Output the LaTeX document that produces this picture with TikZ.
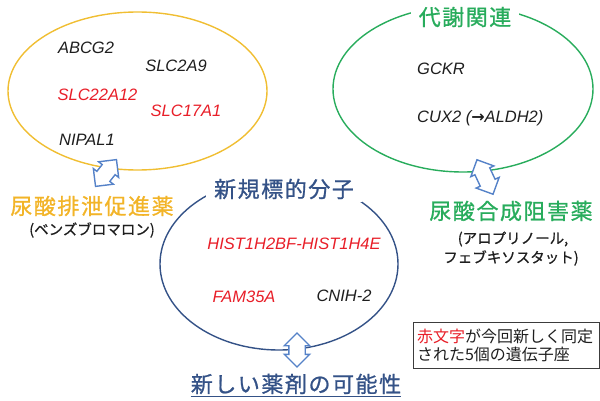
\documentclass[tikz,border=0pt]{standalone}
\usepackage{fontspec}
\usetikzlibrary{shapes.geometric,shapes.arrows}
\setmainfont{Liberation Sans}
\newfontfamily\jp{Noto Sans CJK JP}
\newfontfamily\jpmid[FakeBold=0.8]{Noto Sans CJK JP}
\newfontfamily\jpsp[LetterSpace=7,FakeBold=0.9]{Noto Sans CJK JP}
\newfontfamily\dv{DejaVu Sans}
\definecolor{ylwline}{RGB}{240,190,50}
\definecolor{ylwtext}{RGB}{242,180,40}
\definecolor{grn}{RGB}{40,172,92}
\definecolor{navy}{RGB}{52,82,135}
\definecolor{arrowblue}{RGB}{85,130,200}
\definecolor{redtext}{RGB}{232,30,40}
\definecolor{gblack}{RGB}{30,30,30}
\definecolor{boxgray}{RGB}{60,60,60}
\begin{document}
\begin{tikzpicture}[x=1pt,y=-1pt,
  oval/.style={ellipse, inner sep=0, line width=1.4},
  gene/.style={font=\fontsize{16.5}{18}\selectfont\itshape, inner sep=0, text=gblack},
  newgene/.style={gene, text=redtext},
  title/.style={font=\jpsp\fontsize{22}{24}\selectfont, inner sep=0},
  ovaltitle/.style={title, fill=white, inner xsep=8, inner ysep=3},
  drug/.style={font=\jpmid\fontsize{14.5}{16}\selectfont, inner sep=0, text=gblack},
  dblarrow/.style={double arrow, draw=arrowblue, fill=white, line width=1.4,
     double arrow head extend=4.5, inner sep=7.5}]
\useasboundingbox (0,0) rectangle (600,401);

% ellipses
\node[oval, draw=ylwline, minimum width=259, minimum height=158] (ey) at (137.5,91) {};
\node[oval, draw=grn, minimum width=260, minimum height=166] (eg) at (463,89) {};
\node[oval, draw=navy, minimum width=238, minimum height=172] (eb) at (279,264) {};

% titles on ellipses
\node[ovaltitle, text=grn] (tg) at (465,17) {代謝関連};
\node[ovaltitle, text=navy] (tb) at (284,189) {新規標的分子};

% genes, yellow
\node[gene] (g1) at (86,48) {ABCG2};
\node[gene] (g2) at (176,66) {SLC2A9};
\node[newgene] (g3) at (97.5,95) {SLC22A12};
\node[newgene] (g4) at (186,111) {SLC17A1};
\node[gene] (g5) at (87,140) {NIPAL1};

% genes, green
\node[gene, anchor=west] (g6) at (417,69) {GCKR};
\node[gene, anchor=west] (g7) at (417,118) {CUX2 ({\upshape\dv\bfseries\fontsize{16}{18}\selectfont →}ALDH2)};

% genes, blue
\node[newgene] (g8) at (294,244) {HIST1H2BF-HIST1H4E};
\node[newgene] (g9) at (244,297) {FAM35A};
\node[gene] (g10) at (344,296) {CNIH-2};

% drug labels
\node[title, text=ylwtext] (d1) at (92,206) {尿酸排泄促進薬};
\node[drug] (d1b) at (92,230) {(ベンズブロマロン)};
\node[title, text=grn] (d2) at (511,211) {尿酸合成阻害薬};
\node[drug] (d2b) at (513,239) {(アロプリノール,};
\node[drug] (d2c) at (511,258) {フェブキソスタット)};

% new drug possibility
\node[title, text=navy] (nd) at (296,384) {新しい薬剤の可能性};
\draw[navy, line width=1] ([yshift=-2pt]nd.south west) -- ([yshift=-2pt]nd.south east);

% double arrows
\node[dblarrow, minimum height=34, rotate=52] (a1) at (106,173) {};
\node[dblarrow, minimum height=38, rotate=-65] (a2) at (485,177) {};
\node[dblarrow, minimum height=34, rotate=90] (a3) at (297,350) {};

% note box
\node[draw=boxgray, line width=1, minimum width=186, minimum height=46,
      text width=178, inner xsep=4, inner ysep=0, align=left,
      font=\jp\fontsize{16}{18}\selectfont, text=gblack] (note) at (506,345)
  {\textcolor{redtext}{赤文字}が今回新しく同定\\された5個の遺伝子座};
\end{tikzpicture}
\end{document}
